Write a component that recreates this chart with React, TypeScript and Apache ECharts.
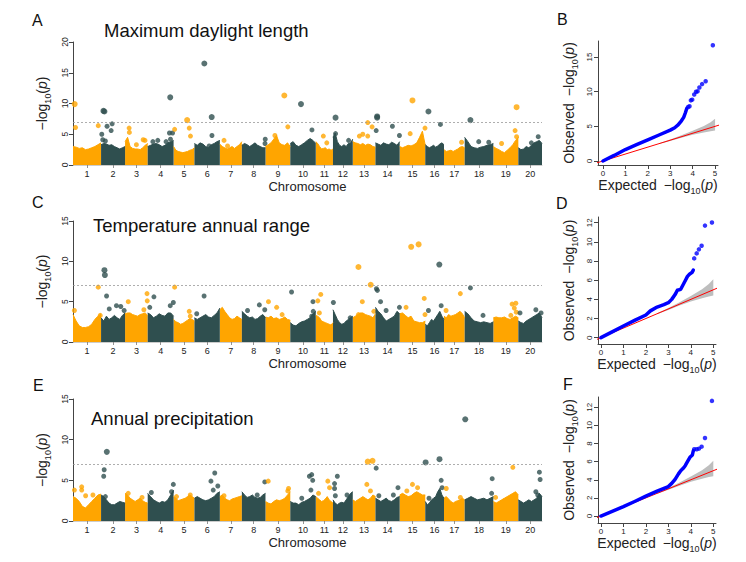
import React, { useEffect, useRef } from 'react'
import * as echarts from 'echarts'

const FONT = "'Liberation Sans', Arial, Helvetica, sans-serif"
const ORANGE = '#FFA500'
const DARK = '#2F4F4F'
const INK = '#222'

// soybean chromosomes, lengths in Mb
const chromosomes = ['1', '2', '3', '4', '5', '6', '7', '8', '9', '10', '11', '12', '13', '14', '15', '16', '17', '18', '19', '20']
const chromLengthMb = [56.8, 48.6, 45.8, 52.4, 42.2, 51.4, 44.6, 47.8, 50.2, 51.6, 34.8, 40.1, 45.9, 49.0, 51.8, 37.9, 41.9, 58.0, 50.6, 47.9]

// top of the dense cloud of SNPs, 10 readings along each chromosome
const envDaylight = [
  [3.0, 2.9, 2.7, 2.8, 2.5, 2.6, 2.8, 3.0, 3.3, 3.6],
  [3.3, 3.5, 3.4, 3.2, 3.3, 3.0, 2.8, 2.6, 2.8, 3.0],
  [3.8, 4.5, 3.0, 2.7, 2.6, 2.6, 2.5, 2.8, 3.2, 3.5],
  [3.0, 3.2, 3.4, 3.5, 3.3, 3.0, 3.2, 3.6, 3.8, 4.0],
  [3.0, 2.4, 2.2, 2.1, 2.0, 2.1, 2.2, 2.4, 2.5, 2.8],
  [3.5, 3.2, 3.6, 3.4, 3.0, 2.8, 3.3, 3.5, 3.8, 4.0],
  [3.4, 3.0, 2.8, 2.6, 2.8, 3.0, 2.7, 3.0, 3.3, 3.8],
  [3.2, 3.5, 3.3, 3.0, 3.3, 3.6, 3.2, 3.0, 2.8, 2.8],
  [3.0, 3.3, 3.6, 4.2, 4.8, 3.6, 3.3, 3.2, 3.6, 3.0],
  [3.5, 3.8, 3.2, 3.0, 3.3, 3.6, 4.0, 4.3, 4.0, 3.5],
  [3.8, 3.5, 3.0, 2.6, 2.7, 2.8, 2.5, 2.6, 2.4, 2.6],
  [4.5, 5.2, 3.8, 3.2, 3.0, 3.3, 3.0, 3.5, 3.6, 4.2],
  [3.8, 3.6, 3.5, 3.3, 3.5, 3.2, 3.4, 3.3, 3.0, 2.9],
  [3.6, 3.4, 3.2, 3.6, 3.4, 3.3, 3.7, 3.5, 3.2, 3.8],
  [3.0, 2.8, 3.0, 3.2, 3.1, 3.3, 3.6, 4.5, 5.5, 3.2],
  [3.3, 3.0, 2.8, 3.0, 3.2, 2.9, 3.1, 3.4, 3.6, 3.3],
  [2.5, 2.2, 2.3, 2.4, 2.2, 2.4, 2.6, 2.9, 3.0, 2.8],
  [4.5, 3.8, 3.0, 2.8, 2.7, 2.9, 3.0, 3.2, 3.3, 3.5],
  [3.0, 2.7, 2.5, 2.2, 2.0, 2.4, 2.8, 3.3, 4.0, 4.5],
  [2.8, 2.5, 2.6, 3.0, 2.8, 3.2, 3.6, 3.8, 4.0, 3.5],
]
const envTempRange = [
  [3.4, 2.6, 2.0, 1.8, 1.8, 1.9, 2.2, 2.8, 3.2, 3.5],
  [3.0, 2.6, 3.2, 2.8, 3.0, 3.3, 3.0, 2.8, 3.3, 3.6],
  [3.5, 3.6, 3.6, 3.4, 3.3, 3.2, 3.4, 3.5, 3.6, 3.3],
  [3.6, 3.4, 3.0, 3.2, 3.5, 3.3, 3.2, 3.6, 3.6, 3.2],
  [2.8, 2.5, 2.4, 2.2, 2.3, 2.5, 2.7, 2.9, 2.8, 2.6],
  [3.0, 2.8, 3.0, 3.2, 3.4, 3.1, 3.0, 3.3, 3.6, 4.2],
  [4.0, 4.3, 3.8, 3.4, 3.0, 2.8, 2.9, 3.2, 3.0, 2.8],
  [3.8, 3.5, 3.2, 3.0, 3.1, 2.8, 2.9, 3.2, 3.4, 3.0],
  [3.1, 3.0, 3.2, 2.9, 3.0, 2.8, 2.9, 3.1, 2.8, 2.7],
  [2.4, 2.1, 2.0, 2.3, 2.5, 2.6, 2.8, 3.0, 3.5, 3.8],
  [3.3, 3.2, 3.0, 2.6, 2.5, 2.4, 2.3, 2.2, 2.1, 2.4],
  [4.0, 3.4, 2.8, 2.4, 2.2, 2.3, 2.6, 2.8, 3.0, 3.2],
  [3.0, 3.2, 3.4, 3.6, 3.6, 3.4, 3.3, 3.2, 3.0, 3.5],
  [4.3, 3.8, 3.5, 3.0, 2.6, 2.8, 3.0, 3.2, 3.8, 3.5],
  [3.5, 3.6, 3.3, 3.0, 3.2, 2.6, 2.5, 2.4, 2.4, 2.6],
  [2.2, 2.0, 2.4, 2.8, 2.6, 3.0, 3.4, 3.8, 3.2, 2.8],
  [3.2, 3.0, 3.4, 3.2, 3.3, 3.4, 3.6, 3.8, 3.5, 3.0],
  [3.8, 3.5, 3.0, 2.6, 2.5, 2.4, 2.5, 2.4, 2.3, 2.5],
  [3.0, 3.1, 3.0, 3.0, 3.1, 2.9, 2.8, 3.0, 3.2, 3.0],
  [2.6, 2.4, 2.3, 2.6, 2.8, 3.0, 3.2, 3.4, 3.6, 3.0],
]
const envPrecip = [
  [3.0, 2.8, 2.4, 1.8, 1.6, 2.0, 2.4, 2.8, 3.2, 3.3],
  [3.2, 3.0, 2.6, 2.2, 2.0, 2.0, 2.2, 2.4, 2.3, 2.2],
  [3.4, 3.2, 2.8, 2.6, 2.4, 2.6, 2.8, 2.5, 2.3, 2.2],
  [3.4, 3.0, 2.6, 2.4, 2.2, 2.4, 2.3, 2.6, 3.2, 3.8],
  [3.0, 2.8, 2.5, 2.6, 2.7, 2.8, 3.0, 3.2, 3.0, 2.8],
  [2.8, 3.0, 2.8, 2.6, 2.5, 2.6, 2.8, 3.0, 3.4, 3.6],
  [3.0, 3.2, 2.8, 2.6, 2.5, 2.7, 2.8, 2.9, 3.0, 3.1],
  [3.6, 3.2, 2.9, 3.0, 3.2, 2.9, 2.8, 2.9, 3.2, 3.4],
  [2.4, 2.2, 2.1, 2.4, 2.6, 2.5, 2.6, 2.8, 3.2, 3.6],
  [2.4, 2.2, 2.2, 2.0, 2.3, 2.4, 2.6, 2.8, 3.2, 3.0],
  [3.0, 2.8, 2.6, 2.4, 2.5, 2.7, 3.0, 2.6, 2.4, 2.2],
  [2.6, 2.2, 2.0, 2.2, 2.3, 2.2, 2.6, 3.0, 3.4, 3.6],
  [2.6, 2.4, 2.6, 2.8, 3.0, 2.8, 2.6, 2.8, 3.2, 3.0],
  [2.8, 2.6, 2.4, 2.6, 2.8, 2.5, 2.4, 2.6, 2.9, 3.0],
  [3.2, 3.4, 3.2, 3.0, 3.1, 3.4, 3.6, 3.4, 3.2, 3.2],
  [2.4, 2.0, 2.2, 2.6, 2.8, 3.0, 3.6, 4.0, 3.2, 2.8],
  [2.8, 3.0, 2.7, 2.4, 2.2, 2.4, 2.5, 2.6, 2.8, 2.6],
  [2.6, 2.8, 3.0, 2.8, 2.6, 2.7, 2.8, 2.6, 2.8, 3.0],
  [2.4, 2.2, 2.4, 2.6, 2.8, 3.0, 3.2, 3.4, 3.6, 3.2],
  [2.6, 2.4, 2.2, 2.4, 2.6, 2.4, 2.6, 2.8, 3.4, 3.0],
]

// single SNPs standing out of the cloud: [chromosome, fraction along it, -log10(p)]
const peaksDaylight = [
  [1, 0.06, 9.9], [1, 0.09, 6.1], [1, 0.9, 6.4],
  [2, 0.1, 8.8], [2, 0.14, 8.7], [2, 0.03, 5.0], [2, 0.25, 6.3], [2, 0.42, 5.6], [2, 0.46, 6.7], [2, 0.18, 3.9], [2, 0.07, 4.1],
  [3, 0.18, 6.0], [3, 0.19, 5.3], [3, 0.5, 3.3], [3, 0.8, 4.1], [3, 0.88, 4.0],
  [4, 0.87, 11.0], [4, 0.84, 5.2], [4, 0.96, 5.2], [4, 0.88, 4.2], [4, 0.2, 3.8], [4, 0.39, 4.0], [4, 0.71, 3.8],
  [5, 0.05, 5.8], [5, 0.65, 7.3], [5, 0.75, 6.0], [5, 0.81, 4.7],
  [6, 0.39, 16.5], [6, 0.68, 7.8], [6, 0.69, 4.8], [6, 0.58, 3.1],
  [7, 0.19, 4.0], [7, 0.35, 3.1],
  [8, 0.99, 4.2], [8, 0.98, 3.5],
  [9, 0.38, 4.8], [9, 0.76, 11.3], [9, 0.9, 6.2],
  [10, 0.42, 9.9], [10, 0.85, 5.7],
  [11, 0.44, 4.7], [11, 0.64, 3.6],
  [12, 0.13, 7.7], [12, 0.13, 5.1], [12, 0.79, 4.0],
  [13, 0.66, 6.9], [13, 0.85, 6.2], [13, 0.44, 5.0], [13, 0.29, 4.7], [13, 0.66, 4.7],
  [14, 0.07, 7.9], [14, 0.07, 7.7], [14, 0.03, 5.6], [14, 0.7, 6.3], [14, 0.99, 4.8],
  [15, 0.5, 10.5], [15, 0.41, 5.1], [15, 0.99, 6.0],
  [16, 0.17, 8.7], [16, 0.81, 6.6],
  [17, 0.85, 3.7],
  [18, 0.2, 7.3], [18, 0.49, 3.8], [18, 0.84, 3.7],
  [19, 0.93, 9.4], [19, 0.87, 5.6], [19, 0.93, 4.6], [19, 0.33, 3.5],
  [20, 0.84, 4.6], [20, 0.55, 3.6],
]
const peaksTempRange = [
  [1, 0.05, 3.9], [1, 0.9, 6.8], [1, 0.97, 3.3],
  [2, 0.14, 8.9], [2, 0.16, 8.3], [2, 0.23, 5.7], [2, 0.34, 4.1], [2, 0.64, 4.5], [2, 0.96, 3.9], [2, 0.82, 4.4],
  [3, 0.14, 5.0], [3, 0.83, 4.0], [3, 0.97, 6.0], [3, 0.98, 5.1],
  [4, 0.08, 4.3], [4, 0.24, 5.6], [4, 0.87, 4.5], [4, 0.99, 4.9],
  [5, 0.05, 6.8], [5, 0.75, 3.8], [5, 0.8, 3.2],
  [6, 0.38, 5.7], [6, 0.09, 3.5],
  [8, 0.74, 4.6], [8, 0.97, 4.0], [8, 0.24, 3.9],
  [9, 0.12, 5.0], [9, 0.45, 4.3], [9, 0.67, 3.4],
  [10, 0.05, 6.2], [10, 0.89, 5.0], [10, 0.9, 3.8], [10, 0.84, 3.2],
  [11, 0.12, 5.1], [11, 0.29, 5.9], [11, 0.21, 3.6],
  [12, 0.02, 4.9], [12, 0.87, 3.0],
  [13, 0.25, 9.3], [13, 0.42, 5.0], [13, 0.79, 7.1], [13, 0.93, 3.8], [13, 0.25, 3.4],
  [14, 0.04, 6.6], [14, 0.08, 6.4], [14, 0.21, 5.0], [14, 0.44, 3.9], [14, 0.99, 4.3],
  [15, 0.45, 11.8], [15, 0.74, 12.1], [15, 0.25, 4.3], [15, 0.96, 5.4], [15, 0.99, 3.4],
  [16, 0.75, 9.6], [16, 0.17, 3.9], [16, 0.85, 4.5],
  [17, 0.79, 6.0], [17, 0.1, 3.9],
  [18, 0.2, 6.7], [18, 0.64, 3.3],
  [19, 0.75, 4.7], [19, 0.9, 4.8], [19, 0.84, 4.2], [19, 0.92, 3.7], [19, 0.7, 3.3],
  [20, 0.74, 4.0], [20, 0.96, 3.6], [20, 0.07, 3.6],
]
const peaksPrecip = [
  [1, 0.05, 3.8], [1, 0.31, 4.2], [1, 0.31, 3.8], [1, 0.71, 3.2], [1, 0.45, 3.1],
  [2, 0.24, 8.5], [2, 0.13, 6.3], [2, 0.11, 5.5], [2, 0.18, 3.0],
  [3, 0.14, 3.4], [3, 0.75, 2.9],
  [4, 0.14, 3.5], [4, 0.99, 4.5], [4, 0.92, 3.6],
  [5, 0.14, 3.0], [5, 0.8, 3.2],
  [6, 0.65, 4.9], [6, 0.8, 5.9], [6, 0.92, 4.3], [6, 0.74, 3.8],
  [7, 0.19, 3.1],
  [8, 0.97, 4.8], [8, 0.65, 3.2],
  [9, 0.11, 4.9], [9, 0.93, 4.0], [9, 0.9, 3.7],
  [10, 0.75, 5.5], [10, 0.84, 5.7], [10, 0.88, 5.0], [10, 0.81, 3.8], [10, 0.45, 2.8],
  [11, 0.7, 4.9], [11, 0.8, 4.1], [11, 0.16, 3.4],
  [12, 0.22, 5.5], [12, 0.08, 4.6], [12, 0.08, 4.0], [12, 0.12, 3.1], [12, 0.71, 3.2],
  [13, 0.66, 7.3], [13, 0.87, 7.4], [13, 0.62, 4.5], [13, 0.78, 3.7],
  [14, 0.03, 6.5], [14, 0.14, 3.1], [14, 0.93, 4.1], [14, 0.74, 3.2],
  [15, 0.5, 4.5], [15, 0.7, 4.1], [15, 0.28, 3.7],
  [16, 0.02, 7.2], [16, 0.76, 7.6], [16, 0.85, 5.0], [16, 0.9, 4.1], [16, 0.2, 2.8],
  [17, 0.11, 4.0], [17, 0.79, 2.9],
  [18, 0.02, 12.5], [18, 0.96, 5.2], [18, 0.94, 3.4],
  [19, 0.78, 6.6], [19, 0.09, 2.9], [19, 0.45, 2.5],
  [20, 0.89, 6.0], [20, 0.92, 5.1], [20, 0.74, 3.6], [20, 0.82, 3.2],
]

const manhattanTicks20 = [0, 5, 10, 15, 20]
const manhattanTicks15 = [0, 5, 10, 15]
const threshold = 7

// QQ plots: [expected, observed]; dense part of the curve and the separate tail points
const qqDaylightDense = [[0, 0], [0.5, 0.8], [1, 1.65], [1.5, 2.35], [2, 3.05], [2.5, 3.75], [3, 4.45], [3.2, 4.8], [3.35, 5.2], [3.5, 5.8], [3.6, 6.3], [3.68, 7.0], [3.74, 7.6]]
const qqDaylightTail = [[3.8, 7.8], [3.86, 7.9], [3.92, 8.75], [3.98, 8.85], [4.07, 9.6], [4.15, 10.0], [4.22, 10.05], [4.3, 10.6], [4.42, 11.1], [4.58, 11.5], [4.9, 16.7]]
const qqTempDense = [[0, 0], [0.5, 0.6], [1, 1.22], [1.5, 1.8], [2, 2.37], [2.2, 2.8], [2.5, 3.2], [2.8, 3.45], [3, 3.65], [3.15, 4.0], [3.3, 4.5], [3.4, 4.95], [3.55, 5.05], [3.65, 5.5], [3.75, 5.95], [3.85, 6.4], [3.95, 6.65], [4.05, 6.8], [4.11, 7.06]]
const qqTempTail = [[4.15, 8.28], [4.26, 8.8], [4.36, 9.22], [4.48, 9.6], [4.63, 11.7], [4.94, 12.03]]
const qqPrecipDense = [[0, 0], [0.5, 0.5], [1, 1.03], [1.5, 1.6], [2, 2.2], [2.5, 2.75], [3, 3.25], [3.15, 3.6], [3.3, 4.05], [3.45, 4.65], [3.55, 5.0], [3.66, 5.26], [3.75, 5.55], [3.85, 6.0], [3.96, 6.48], [4.07, 6.74], [4.11, 7.2]]
const qqPrecipTail = [[4.15, 7.36], [4.26, 7.36], [4.36, 7.43], [4.48, 7.65], [4.63, 8.6], [4.94, 12.7]]

// 95% band of the null distribution
const bandExpected = [2.5, 3, 3.5, 4, 4.5, 4.8, 5.0]
const bandLower = [2.45, 2.9, 3.35, 3.78, 4.12, 4.3, 4.4]
const bandUpper = [2.56, 3.1, 3.7, 4.35, 5.05, 5.6, 6.1]

const qqXTicks = [0, 1, 2, 3, 4, 5]
const qqYTicksB = [0, 5, 10, 15]
const qqYTicksDF = [0, 2, 4, 6, 8, 10, 12]

const starts: number[] = []
let acc = 0
chromLengthMb.forEach((l) => {
  starts.push(acc)
  acc += l
})
const genomeLength = acc
const centers = chromLengthMb.map((l, i) => starts[i] + l / 2)

function massData(env: number[][], parity: number) {
  const out: any[] = []
  env.forEach((h, c) => {
    if (c % 2 !== parity) return
    h.forEach((v, k) => out.push([starts[c] + (chromLengthMb[c] * k) / (h.length - 1), v]))
    out.push([starts[c] + chromLengthMb[c], '-'])
  })
  return out
}

function peakData(peaks: number[][]) {
  return peaks.map(([c, f, v]) => ({
    value: [starts[c - 1] + chromLengthMb[c - 1] * f, v],
    symbolSize: v >= threshold ? 6 : 5,
    itemStyle: { color: c % 2 === 1 ? ORANGE : DARK },
  }))
}

const logRich = {
  w: { fontSize: 14, fontFamily: FONT, color: INK, padding: [0, 7, 3, 0], verticalAlign: 'bottom' },
  a: { fontSize: 14, fontFamily: FONT, color: INK, padding: [0, 0, 3, 0], verticalAlign: 'bottom' },
  s: { fontSize: 9, fontFamily: FONT, color: INK, verticalAlign: 'bottom' },
  i: { fontSize: 14, fontFamily: FONT, fontStyle: 'italic', color: INK, padding: [0, 0, 3, 0], verticalAlign: 'bottom' },
}
const logName = (prefix?: string) => (prefix ? `{w|${prefix}}` : '') + '{a|−log}{s|10}{a|(}{i|p}{a|)}'

const axisLineStyle = { color: '#444', width: 1 }

const App: React.FC = () => {
  const chartRef = useRef<HTMLDivElement>(null)

  useEffect(() => {
    if (!chartRef.current) return
    document.body.style.margin = '0'
    const chart = echarts.init(chartRef.current, undefined, { renderer: 'svg' })

    const manhattanGrids = [
      { left: 73, top: 42, width: 469, height: 123 },
      { left: 73, top: 221, width: 469, height: 121 },
      { left: 73, top: 399, width: 469, height: 122 },
    ]
    const qqGrids = [
      { left: 598, top: 41, width: 120, height: 124 },
      { left: 598, top: 217, width: 118, height: 127 },
      { left: 598, top: 397, width: 118, height: 126 },
    ]
    const manhattanMax = [20, 15, 15]
    const manhattanTicks = [manhattanTicks20, manhattanTicks15, manhattanTicks15]
    const envs = [envDaylight, envTempRange, envPrecip]
    const peaks = [peaksDaylight, peaksTempRange, peaksPrecip]

    const qqX = [[-0.22, 5.13], [-0.13, 5.12], [-0.13, 5.12]]
    const qqY = [[-0.58, 17.32], [-0.66, 12.6], [-0.77, 13.13]]
    const qqYTicks = [qqYTicksB, qqYTicksDF, qqYTicksDF]
    const qqDense = [qqDaylightDense, qqTempDense, qqPrecipDense]
    const qqTail = [qqDaylightTail, qqTempTail, qqPrecipTail]

    const xAxis: any[] = []
    const yAxis: any[] = []
    const series: any[] = []

    manhattanGrids.forEach((_, p) => {
      xAxis.push({
        gridIndex: p,
        type: 'value',
        min: 0,
        max: genomeLength,
        axisLine: { show: true, onZero: false, lineStyle: { color: '#aaa', width: 0.6 } },
        axisTick: { show: true, length: 3, customValues: centers, lineStyle: { color: '#777', width: 0.8 } },
        splitLine: { show: false },
        axisLabel: {
          customValues: centers,
          formatter: (v: number) => {
            let best = 0
            centers.forEach((c, i) => {
              if (Math.abs(c - v) < Math.abs(centers[best] - v)) best = i
            })
            return chromosomes[best]
          },
          fontSize: 9,
          fontFamily: FONT,
          color: INK,
          margin: 4,
        },
        name: 'Chromosome',
        nameLocation: 'middle',
        nameGap: 15,
        nameTextStyle: { fontSize: 13, fontFamily: FONT, color: INK },
      })
      yAxis.push({
        gridIndex: p,
        type: 'value',
        min: 0,
        max: manhattanMax[p],
        axisLine: { show: true, lineStyle: axisLineStyle },
        axisTick: { show: true, length: 4, customValues: manhattanTicks[p], lineStyle: axisLineStyle },
        axisLabel: { customValues: manhattanTicks[p], rotate: 90, fontSize: 8.5, fontFamily: FONT, color: INK, margin: 4 },
        splitLine: { show: false },
        name: logName(),
        nameLocation: 'middle',
        nameGap: 17,
        nameRotate: 90,
        nameTextStyle: { rich: logRich },
      })
      series.push(
        ...[0, 1].map((parity) => ({
          type: 'line',
          xAxisIndex: p,
          yAxisIndex: p,
          data: massData(envs[p], parity),
          symbol: 'none',
          smooth: false,
          connectNulls: false,
          lineStyle: { color: parity === 0 ? ORANGE : DARK, width: 1 },
          areaStyle: { color: parity === 0 ? ORANGE : DARK, opacity: 1 },
          silent: true,
        })),
        {
          type: 'scatter',
          xAxisIndex: p,
          yAxisIndex: p,
          data: peakData(peaks[p]),
          silent: true,
          markLine: {
            silent: true,
            symbol: ['none', 'none'],
            label: { show: false },
            lineStyle: { type: [2, 2], color: '#999', width: 0.8 },
            data: [{ yAxis: threshold }],
          },
        }
      )
    })

    qqGrids.forEach((_, q) => {
      const gi = q + 3
      xAxis.push({
        gridIndex: gi,
        type: 'value',
        min: qqX[q][0],
        max: qqX[q][1],
        axisLine: { show: true, onZero: false, lineStyle: axisLineStyle },
        axisTick: { show: true, length: 4, customValues: qqXTicks, lineStyle: axisLineStyle },
        axisLabel: { customValues: qqXTicks, fontSize: 8, fontFamily: FONT, color: INK, margin: 4 },
        splitLine: { show: false },
        name: logName('Expected'),
        nameLocation: 'middle',
        nameGap: 13,
        nameTextStyle: { rich: logRich },
      })
      yAxis.push({
        gridIndex: gi,
        type: 'value',
        min: qqY[q][0],
        max: qqY[q][1],
        axisLine: { show: true, onZero: false, lineStyle: axisLineStyle },
        axisTick: { show: true, length: 4, customValues: qqYTicks[q], lineStyle: axisLineStyle },
        axisLabel: { customValues: qqYTicks[q], rotate: 90, fontSize: 8, fontFamily: FONT, color: INK, margin: 5 },
        splitLine: { show: false },
        name: logName('Observed'),
        nameLocation: 'middle',
        nameGap: 19,
        nameRotate: 90,
        nameTextStyle: { rich: logRich },
      })
      series.push(
        {
          type: 'custom',
          xAxisIndex: gi,
          yAxisIndex: gi,
          silent: true,
          data: bandExpected.map((x, i) => [x, bandLower[i], bandUpper[i]]),
          renderItem: (params: any, api: any) => {
            if (params.dataIndex !== 0) return { type: 'group', children: [] }
            const up = bandExpected.map((x, i) => api.coord([x, bandUpper[i]]))
            const lo = bandExpected.map((x, i) => api.coord([x, bandLower[i]])).reverse()
            return { type: 'polygon', shape: { points: [...up, ...lo] }, style: { fill: '#BEBEBE' } }
          },
        },
        {
          type: 'line',
          xAxisIndex: gi,
          yAxisIndex: gi,
          data: [[-1, -1], [6, 6]],
          symbol: 'none',
          clip: true,
          silent: true,
          lineStyle: { color: '#FF0000', width: 1 },
        },
        {
          type: 'line',
          xAxisIndex: gi,
          yAxisIndex: gi,
          data: qqDense[q],
          symbol: 'none',
          silent: true,
          lineStyle: { color: '#0000FF', width: 3.5, cap: 'round', join: 'round' },
        },
        {
          type: 'scatter',
          xAxisIndex: gi,
          yAxisIndex: gi,
          data: qqTail[q],
          symbolSize: 4.5,
          silent: true,
          itemStyle: { color: '#0000FF' },
        }
      )
    })

    const letter = (t: string, x: number, y: number) => ({
      type: 'text',
      x,
      y,
      silent: true,
      style: { text: t, fontSize: 16, fontFamily: FONT, fill: '#111', verticalAlign: 'middle' },
    })
    const title = (t: string, x: number, y: number) => ({
      type: 'text',
      x,
      y,
      silent: true,
      style: { text: t, fontSize: 18.5, fontFamily: FONT, fill: '#111', verticalAlign: 'middle' },
    })

    const option: any = {
      animation: false,
      backgroundColor: '#ffffff',
      grid: [...manhattanGrids, ...qqGrids],
      xAxis,
      yAxis,
      series,
      graphic: [
        letter('A', 32, 20),
        letter('C', 32, 202),
        letter('E', 33, 385),
        letter('B', 557, 19),
        letter('D', 556, 203),
        letter('F', 563, 384),
        title('Maximum daylight length', 104, 30),
        title('Temperature annual range', 93, 225),
        title('Annual precipitation', 91, 418),
      ],
    }

    chart.setOption(option)

    return () => {
      chart.dispose()
    }
  }, [])

  return <div ref={chartRef} style={{ width: 746, height: 562 }} />
}

export default App
